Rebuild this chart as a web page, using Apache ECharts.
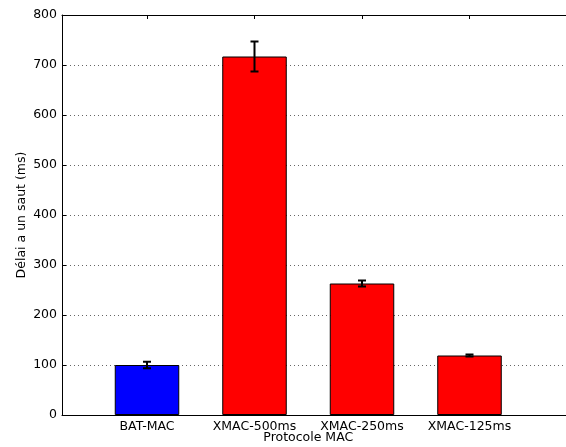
<!DOCTYPE html>
<html>
<head>
<meta charset="utf-8">
<script src="https://cdn.jsdelivr.net/npm/echarts@6/dist/echarts.min.js"></script>
<style>html,body{margin:0;padding:0;background:#fff;}#c{width:566px;height:447px;}</style>
</head>
<body>
<div id="c"></div>
<script>
var categories = ['BAT-MAC', 'XMAC-500ms', 'XMAC-250ms', 'XMAC-125ms'];
var values = [100, 717, 263, 119];
var errors = [6.5, 30, 6, 2];
var barColors = ['#0000ff', '#ff0000', '#ff0000', '#ff0000'];
var yTicks = [0, 100, 200, 300, 400, 500, 600, 700, 800];

var chart = echarts.init(document.getElementById('c'));
var font = 'DejaVu Sans';
var errData = categories.map(function (c, i) { return [i, values[i] - errors[i], values[i] + errors[i]]; });

chart.setOption({
  animation: false,
  backgroundColor: '#fff',
  grid: [
    { left: 62, top: 15, width: 520, height: 400, show: false, containLabel: false, outerBoundsMode: 'none' },
    { left: 93.25, top: 15, width: 430, height: 400, containLabel: false, outerBoundsMode: 'none' }
  ],
  xAxis: [
    { type: 'value', gridIndex: 0, min: 0, max: 1, position: 'bottom',
      axisLine: { show: true, lineStyle: { color: '#000', width: 1 } },
      axisTick: { show: false }, axisLabel: { show: false }, splitLine: { show: false } },
    { type: 'value', gridIndex: 0, min: 0, max: 1, position: 'top',
      axisLine: { show: true, lineStyle: { color: '#000', width: 1 } },
      axisTick: { show: false }, axisLabel: { show: false }, splitLine: { show: false } },
    { type: 'category', gridIndex: 1, data: categories, position: 'bottom',
      axisLine: { show: false },
      axisTick: { show: true, inside: true, alignWithLabel: true, length: 4, lineStyle: { color: '#000' } },
      axisLabel: { color: '#000', fontFamily: font, fontSize: 12.5, margin: 5, interval: 0 },
      name: 'Protocole MAC', nameLocation: 'middle', nameGap: 16, nameMoveOverlap: false,
      nameTextStyle: { color: '#000', fontFamily: font, fontSize: 12.5 } },
    { type: 'category', gridIndex: 1, data: categories, position: 'top',
      axisLine: { show: false },
      axisTick: { show: true, inside: true, alignWithLabel: true, length: 4, lineStyle: { color: '#000' } },
      axisLabel: { show: false } }
  ],
  yAxis: [
    { type: 'value', gridIndex: 0, min: 0, max: 800, interval: 100,
      axisLine: { show: true, lineStyle: { color: '#000' } },
      axisTick: { show: true, inside: true, length: 4, lineStyle: { color: '#000' } },
      axisLabel: { color: '#000', fontFamily: font, fontSize: 12.5, margin: 5 },
      splitLine: { show: true, lineStyle: { color: '#666', type: [1, 3], width: 1 } },
      name: 'Délai a un saut (ms)', nameLocation: 'middle', nameGap: 34, nameMoveOverlap: false,
      nameTextStyle: { color: '#000', fontFamily: font, fontSize: 12.5 } },
    { type: 'value', gridIndex: 1, min: 0, max: 800, show: false }
  ],
  series: [
    { type: 'bar', xAxisIndex: 2, yAxisIndex: 1, barWidth: '60%', z: 3,
      data: values.map(function (v, i) {
        return { value: v, itemStyle: { color: barColors[i], borderColor: '#000', borderWidth: 1 } };
      }) },
    { type: 'custom', xAxisIndex: 2, yAxisIndex: 1, z: 5, data: errData,
      renderItem: function (params, api) {
        var x = api.coord([api.value(0), 0])[0];
        var lo = api.coord([api.value(0), api.value(1)])[1];
        var hi = api.coord([api.value(0), api.value(2)])[1];
        var hw = 4;
        var st = { stroke: '#000', lineWidth: 2 };
        return { type: 'group', children: [
          { type: 'line', shape: { x1: x, y1: lo, x2: x, y2: hi }, style: st },
          { type: 'line', shape: { x1: x - hw, y1: lo, x2: x + hw, y2: lo }, style: st },
          { type: 'line', shape: { x1: x - hw, y1: hi, x2: x + hw, y2: hi }, style: st }
        ] };
      } }
  ]
});
</script>
</body>
</html>
